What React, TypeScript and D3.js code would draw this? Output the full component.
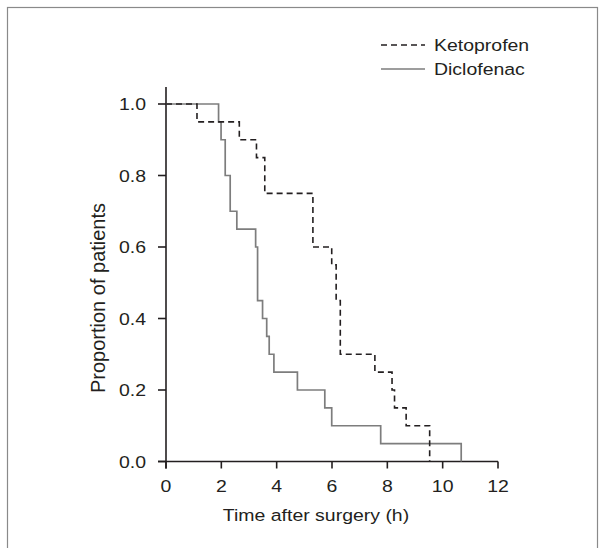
import React from 'react';
import * as d3 from 'd3';

// Kaplan-Meier style data (time in hours, proportion remaining after each event)
const ketoTimes = [0, 1.12, 2.65, 3.27, 3.57, 5.31, 5.99, 6.15, 6.3, 7.55, 8.17, 8.26, 8.68, 9.53];
const ketoValues = [1.0, 0.95, 0.9, 0.85, 0.75, 0.6, 0.55, 0.45, 0.3, 0.25, 0.2, 0.15, 0.1, 0.0];

const dicloTimes = [0, 1.9, 1.99, 2.14, 2.32, 2.56, 3.24, 3.31, 3.49, 3.64, 3.73, 3.9, 4.75, 5.74, 5.99, 7.76, 10.67];
const dicloValues = [1.0, 0.95, 0.9, 0.8, 0.7, 0.65, 0.6, 0.45, 0.4, 0.35, 0.3, 0.25, 0.2, 0.15, 0.1, 0.05, 0.0];

const xTicks = [0, 2, 4, 6, 8, 10, 12];
const yTicks = [0, 0.2, 0.4, 0.6, 0.8, 1.0];
const seriesNames = ['Ketoprofen', 'Diclofenac'];

const W = 606;
const H = 548;
const FONT = '"Liberation Sans", Arial, Helvetica, sans-serif';
const INK = '#231f20';
const GREY = '#7d7d7d';
const SX = 1.18; // text in the source looks stretched sideways

const x = d3.scaleLinear().domain([0, 12]).range([166, 498]);
const y = d3.scaleLinear().domain([0, 1]).range([461.5, 104]);

type Pt = [number, number];
const stepLine = d3
  .line<Pt>()
  .x((d) => x(d[0]))
  .y((d) => y(d[1]))
  .curve(d3.curveStepAfter);

const zip = (t: number[], v: number[]): Pt[] => t.map((tt, i) => [tt, v[i]]);

const WideText = ({ x0, y0, anchor = 'start', size = 16.5, children }: any) => (
  <g transform={`translate(${x0},${y0}) scale(${SX},1)`}>
    <text textAnchor={anchor} fontSize={size} fontFamily={FONT} fill={INK}>
      {children}
    </text>
  </g>
);

const App = () => {
  const ketoPath = stepLine(zip(ketoTimes, ketoValues)) || '';
  const dicloPath = stepLine(zip(dicloTimes, dicloValues)) || '';

  return (
    <div style={{ position: 'fixed', left: 0, top: 0 }}>
      <svg width={W} height={H} style={{ display: 'block', background: '#fff' }}>
        {/* frame */}
        <rect x={7.5} y={7.5} width={590} height={570} fill="none" stroke="#8a8a8a" strokeWidth={1.2} />

        {/* axes */}
        <line x1={x(0)} x2={x(0)} y1={87} y2={y(0) + 7} stroke={INK} strokeWidth={1.6} />
        <line x1={x(0) - 8} x2={x(12)} y1={y(0)} y2={y(0)} stroke={INK} strokeWidth={1.6} />

        {yTicks.map((t) => (
          <g key={`y${t}`}>
            <line x1={x(0) - 8} x2={x(0)} y1={y(t)} y2={y(t)} stroke={INK} strokeWidth={1.6} />
            <WideText x0={146} y0={y(t) + 6} anchor="end">
              {t.toFixed(1)}
            </WideText>
          </g>
        ))}

        {xTicks.map((t) => (
          <g key={`x${t}`}>
            <line x1={x(t)} x2={x(t)} y1={y(0)} y2={y(0) + 7} stroke={INK} strokeWidth={1.6} />
            <WideText x0={x(t)} y0={492} anchor="middle">
              {t}
            </WideText>
          </g>
        ))}

        <WideText x0={316} y0={521} anchor="middle">
          Time after surgery (h)
        </WideText>
        <text
          transform={`translate(105,298) rotate(-90)`}
          textAnchor="middle"
          fontSize={20}
          fontFamily={FONT}
          fill={INK}
        >
          Proportion of patients
        </text>

        {/* curves */}
        <path d={dicloPath} fill="none" stroke={GREY} strokeWidth={1.7} />
        <path d={ketoPath} fill="none" stroke={INK} strokeWidth={1.6} strokeDasharray="6,4" />

        {/* legend */}
        <line x1={381} x2={425} y1={45} y2={45} stroke={INK} strokeWidth={1.6} strokeDasharray="6,4" />
        <line x1={381} x2={425} y1={69} y2={69} stroke={GREY} strokeWidth={1.7} />
        <WideText x0={434} y0={51}>{seriesNames[0]}</WideText>
        <WideText x0={434} y0={75}>{seriesNames[1]}</WideText>
      </svg>
    </div>
  );
};

export default App;
